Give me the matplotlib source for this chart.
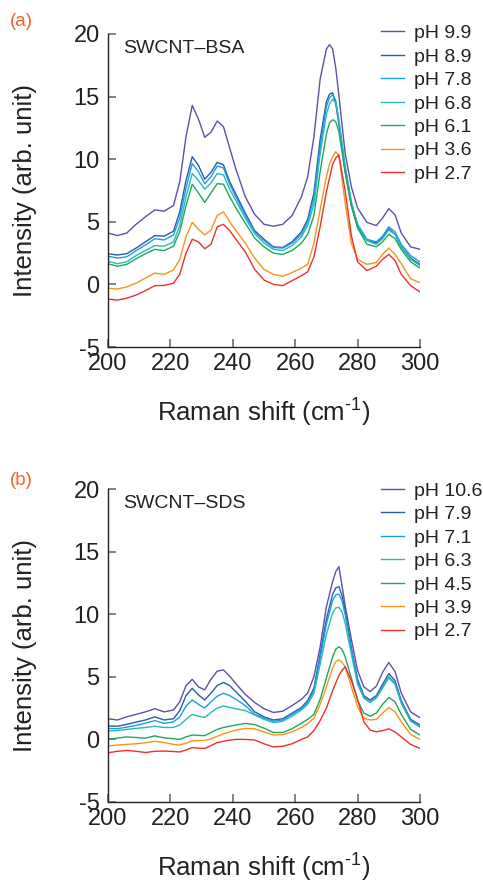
import matplotlib
matplotlib.use("Agg")
import matplotlib.pyplot as plt

plt.rcParams['font.family'] = ['Liberation Sans', 'DejaVu Sans']
plt.rcParams['mathtext.default'] = 'regular'
plt.rcParams['axes.unicode_minus'] = False

# ---------------- data: panel (a) SWCNT-BSA ----------------
x_a = [200, 203, 206, 209, 212, 215, 218, 221, 223, 225, 227, 229, 231, 233, 235, 237, 239, 241,
       244, 247, 250, 253, 256, 259, 262, 264, 266, 268, 270, 271, 272, 273, 274, 276, 278, 280,
       283, 286, 288, 290, 292, 294, 297, 300]
a_ph99 = [4.1, 3.9, 4.1, 4.8, 5.4, 5.95, 5.85, 6.3, 8.2, 11.8, 14.3, 13.2, 11.75, 12.15, 13.05, 12.6, 10.9, 9.2,
          7.0, 5.6, 4.8, 4.65, 4.8, 5.5, 7.0, 8.6, 11.8, 16.4, 18.8, 19.15, 18.8, 17.3, 15.1, 10.5, 7.8, 6.1,
          4.95, 4.7, 5.3, 6.05, 5.55, 4.1, 3.0, 2.8]
a_ph89 = [2.45, 2.35, 2.45, 2.9, 3.4, 3.9, 3.85, 4.25, 5.8, 8.3, 10.2, 9.5, 8.4, 8.95, 9.75, 9.55, 8.2, 7.2,
          5.7, 4.3, 3.6, 3.0, 2.95, 3.4, 4.2, 5.2, 7.3, 11.6, 14.6, 15.2, 15.3, 14.4, 12.8, 9.0, 6.3, 4.6,
          3.5, 3.3, 3.75, 4.45, 4.0, 3.0, 2.1, 1.6]
a_ph78 = [2.25, 2.1, 2.2, 2.7, 3.15, 3.65, 3.55, 3.95, 5.3, 7.7, 9.65, 9.0, 8.05, 8.6, 9.45, 9.3, 8.0, 7.0,
          5.5, 4.2, 3.5, 2.95, 2.9, 3.3, 4.0, 5.0, 6.9, 11.0, 14.2, 14.9, 15.15, 14.7, 13.0, 9.3, 6.5, 4.8,
          3.6, 3.4, 3.85, 4.6, 4.2, 3.2, 2.3, 1.8]
a_ph68 = [1.85, 1.65, 1.8, 2.3, 2.7, 3.1, 3.05, 3.4, 4.7, 7.0, 8.85, 8.3, 7.6, 8.1, 8.85, 8.75, 7.6, 6.7,
          5.3, 4.05, 3.3, 2.8, 2.7, 3.1, 3.8, 4.7, 6.4, 10.4, 13.6, 14.4, 14.8, 14.5, 13.2, 9.5, 6.6, 4.7,
          3.5, 3.2, 3.65, 4.35, 4.0, 3.0, 2.0, 1.5]
a_ph61 = [1.65, 1.45, 1.6, 2.05, 2.45, 2.8, 2.7, 3.05, 4.2, 6.3, 8.0, 7.3, 6.55, 7.3, 8.05, 8.0, 7.0, 6.1,
          4.9, 3.7, 3.0, 2.5, 2.4, 2.7, 3.3, 4.0, 5.5, 9.0, 12.0, 12.9, 13.15, 13.0, 12.2, 9.0, 6.3, 4.5,
          3.2, 3.0, 3.4, 4.0, 3.65, 2.8, 1.8, 1.3]
a_ph36 = [-0.3, -0.37, -0.2, 0.1, 0.5, 0.9, 0.8, 1.15, 2.0, 3.8, 4.95, 4.4, 3.95, 4.35, 5.5, 5.8, 5.0, 4.3,
          3.3, 2.1, 1.2, 0.8, 0.65, 0.95, 1.3, 1.6, 3.3, 6.0, 8.6, 9.6, 10.2, 10.6, 10.3, 6.5, 3.3, 2.0,
          1.6, 1.75, 2.4, 2.9, 2.4, 1.65, 0.45, 0.13]
a_ph27 = [-1.17, -1.25, -1.1, -0.85, -0.5, -0.1, -0.08, 0.1, 0.8, 2.5, 3.6, 3.4, 2.85, 3.2, 4.6, 4.8, 4.3, 3.6,
          2.6, 1.2, 0.35, 0.0, -0.1, 0.3, 0.7, 1.0, 2.2, 4.6, 7.4, 8.5, 9.6, 10.1, 10.35, 7.5, 3.9, 1.8,
          1.1, 1.45, 2.0, 2.4, 1.9, 0.8, -0.1, -0.6]
labels_a = ['pH 9.9', 'pH 8.9', 'pH 7.8', 'pH 6.8', 'pH 6.1', 'pH 3.6', 'pH 2.7']

# ---------------- data: panel (b) SWCNT-SDS ----------------
x_b = [200, 203, 206, 209, 212, 215, 218, 221, 223, 225, 227, 229, 231, 233, 235, 237, 239, 241,
       244, 247, 250, 253, 256, 259, 262, 264, 266, 268, 270, 272, 273, 274, 275, 276, 278, 280,
       282, 284, 286, 288, 290, 292, 294, 297, 300]
b_ph106 = [1.65, 1.55, 1.8, 2.0, 2.2, 2.45, 2.2, 2.35, 3.0, 4.3, 4.8, 4.2, 3.95, 4.8, 5.45, 5.55, 5.05, 4.45,
           3.6, 2.95, 2.45, 2.15, 2.25, 2.7, 3.2, 3.7, 5.0, 7.4, 10.6, 12.6, 13.4, 13.8, 12.3, 10.7, 8.0, 5.5,
           4.2, 3.82, 4.25, 5.35, 6.14, 5.42, 3.7, 2.2, 1.73]
b_ph79 = [1.07, 1.05, 1.2, 1.38, 1.55, 1.8, 1.55, 1.65, 2.3, 3.5, 4.08, 3.55, 3.15, 3.7, 4.3, 4.55, 4.3, 3.8,
          3.05, 2.2, 1.8, 1.55, 1.65, 2.1, 2.55, 3.1, 4.1, 6.8, 9.6, 11.6, 12.1, 12.2, 11.5, 10.3, 7.3, 4.8,
          3.5, 3.15, 3.5, 4.4, 5.25, 4.7, 3.1, 1.6, 1.15]
b_ph71 = [0.88, 0.85, 0.98, 1.12, 1.3, 1.5, 1.28, 1.4, 1.8, 2.65, 3.15, 2.8, 2.5, 3.0, 3.45, 3.68, 3.5, 3.2,
          2.7, 2.0, 1.7, 1.45, 1.55, 2.0, 2.45, 2.95, 3.9, 6.5, 9.2, 11.1, 11.55, 11.6, 11.1, 10.0, 7.1, 4.6,
          3.4, 3.0, 3.4, 4.2, 5.0, 4.5, 2.95, 1.5, 1.0]
b_ph63 = [0.69, 0.7, 0.8, 0.88, 0.95, 1.05, 0.95, 0.96, 1.15, 1.6, 2.0, 1.85, 1.75, 2.15, 2.5, 2.67, 2.55, 2.45,
          2.3, 1.95, 1.6, 1.35, 1.45, 1.85, 2.35, 2.8, 3.7, 6.0, 8.4, 10.1, 10.5, 10.55, 10.2, 9.3, 6.8, 4.4,
          3.3, 2.95, 3.3, 4.1, 4.9, 4.4, 2.9, 1.45, 1.0]
b_ph45 = [0.0, 0.1, 0.2, 0.15, 0.1, 0.28, 0.12, 0.05, 0.0, 0.2, 0.35, 0.32, 0.3, 0.55, 0.8, 0.95, 1.05, 1.15,
          1.28, 1.18, 0.9, 0.55, 0.55, 0.85, 1.3, 1.6, 2.0, 3.2, 4.9, 6.6, 7.2, 7.4, 7.2, 6.6, 4.9, 3.1,
          2.1, 1.85, 2.1, 2.8, 3.35, 3.0, 2.0, 0.8, 0.35]
b_ph39 = [-0.53, -0.45, -0.4, -0.35, -0.27, -0.15, -0.25, -0.4, -0.45, -0.3, -0.12, -0.1, -0.08, 0.05, 0.25, 0.45, 0.6, 0.75,
          0.88, 0.85, 0.6, 0.35, 0.38, 0.6, 0.95, 1.25, 1.7, 2.8, 4.2, 5.7, 6.2, 6.35, 6.15, 5.8, 4.2, 2.6,
          1.7, 1.55, 1.6, 2.1, 2.55, 2.2, 1.4, 0.4, 0.0]
b_ph27 = [-1.07, -0.95, -0.88, -0.95, -1.05, -0.95, -0.93, -0.97, -1.0, -0.85, -0.65, -0.7, -0.72, -0.5, -0.25, -0.15, -0.05, 0.0,
          0.0, -0.05, -0.35, -0.6, -0.55, -0.35, 0.0, 0.2, 0.7, 1.5, 2.5, 3.9, 4.5, 5.1, 5.5, 5.8, 4.7, 3.2,
          1.4, 0.75, 0.6, 0.7, 0.85, 0.6, 0.2, -0.4, -0.72]
labels_b = ['pH 10.6', 'pH 7.9', 'pH 7.1', 'pH 6.3', 'pH 4.5', 'pH 3.9', 'pH 2.7']

colors = ['#5e4fa8', '#2c5aa8', '#1a9fe0', '#2bb7c2', '#1fa85c', '#f7941d', '#ee2f2f']
xticks = [200, 220, 240, 260, 280, 300]
yticks = [-5, 0, 5, 10, 15, 20]

W, H = 483, 886
fig = plt.figure(figsize=(W / 100, H / 100), dpi=100)

def panel(rect, x, series, labels, title, tag, leg_top):
    ax = fig.add_axes(rect)
    for y, c, lab in zip(series, colors, labels):
        ax.plot(x, y, color=c, lw=1.0, label=lab, solid_joinstyle='round')
    ax.set_xlim(200, 300)
    ax.set_ylim(-5, 20)
    ax.set_xticks(xticks)
    ax.set_yticks(yticks)
    ax.spines['top'].set_visible(False)
    ax.spines['right'].set_visible(False)
    for s in ['left', 'bottom']:
        ax.spines[s].set_linewidth(1.0)
        ax.spines[s].set_color('#222222')
    ax.tick_params(direction='in', length=6, width=1.3, color='#777777',
                   labelsize=17, labelcolor='#222222')
    ax.tick_params(axis='x', pad=4)
    ax.tick_params(axis='y', pad=6)
    ax.set_xlabel('Raman shift (cm$^{\u2010 1}$)', fontsize=18.5, color='#222222', labelpad=16)
    ax.set_ylabel('Intensity (arb. unit)', fontsize=18.5, color='#222222', labelpad=26)
    ax.text(0.05, 0.955, title, transform=ax.transAxes, fontsize=14, color='#222222',
            ha='left', va='center')
    leg = ax.legend(loc='upper left', bbox_to_anchor=(0.875, leg_top), frameon=False,
                    fontsize=14, handlelength=1.2, handletextpad=0.5, labelspacing=0.3,
                    borderpad=0, borderaxespad=0)
    for t in leg.get_texts():
        t.set_color('#222222')
    fig.text(tag[0] / W, 1 - tag[1] / H, tag[2], color='#f26522', fontsize=13.5,
             ha='left', va='center')
    return ax

panel([108 / W, 1 - 347 / H, 312 / W, 313 / H], x_a,
      [a_ph99, a_ph89, a_ph78, a_ph68, a_ph61, a_ph36, a_ph27], labels_a,
      'SWCNT\u2013BSA', (10, 22, '(a)'), 1.03)
panel([108 / W, 1 - 802 / H, 312 / W, 313 / H], x_b,
      [b_ph106, b_ph79, b_ph71, b_ph63, b_ph45, b_ph39, b_ph27], labels_b,
      'SWCNT\u2013SDS', (10, 480, '(b)'), 1.022)

fig.savefig('out.png', dpi=100)
